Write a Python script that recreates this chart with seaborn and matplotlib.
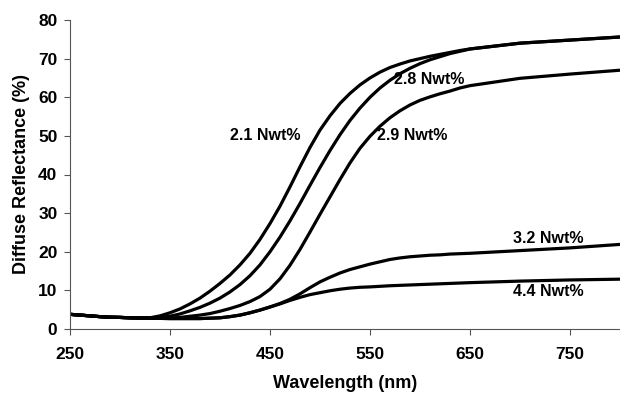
import matplotlib
matplotlib.use("Agg")
import matplotlib.pyplot as plt
import seaborn as sns
import pandas as pd

wavelength = [250, 260, 270, 280, 290, 300, 310, 320, 330,
              340, 350, 360, 370, 380, 390, 400, 410, 420, 430, 440, 450, 460, 470, 480, 490,
              500, 510, 520, 530, 540, 550, 560, 570, 580, 590, 600, 610, 620, 630, 640, 650,
              700, 750, 800]
n21 = [3.8, 3.6, 3.4, 3.2, 3.05, 3.0, 2.9, 2.85, 2.9,
       3.4, 4.2, 5.2, 6.5, 8.0, 9.8, 11.8, 14.0, 16.6, 19.6, 23.2, 27.3, 31.8, 36.8, 42.0, 47.0,
       51.5, 55.2, 58.4, 61.0, 63.2, 65.0, 66.5, 67.7, 68.6, 69.4, 70.0, 70.6, 71.1, 71.6, 72.1, 72.5,
       74.0, 74.8, 75.6]
n28 = [3.8, 3.6, 3.4, 3.2, 3.05, 3.0, 2.9, 2.85, 2.85,
       2.95, 3.3, 3.9, 4.7, 5.6, 6.7, 8.0, 9.6, 11.5, 13.8, 16.6, 20.0, 23.8, 28.0, 32.5, 37.2,
       41.8, 46.2, 50.3, 54.0, 57.2, 60.0, 62.4, 64.4, 66.1, 67.5, 68.7, 69.7, 70.5, 71.3, 71.9, 72.5,
       74.0, 74.8, 75.6]
n29 = [3.8, 3.6, 3.4, 3.2, 3.05, 3.0, 2.9, 2.85, 2.8,
       2.8, 2.8, 3.0, 3.3, 3.6, 4.0, 4.6, 5.3, 6.1, 7.1, 8.4, 10.3, 13.0, 16.5, 20.6, 25.1,
       29.7, 34.2, 38.7, 43.0, 46.8, 49.9, 52.5, 54.7, 56.5, 58.0, 59.2, 60.1, 60.9, 61.6, 62.4, 63.0,
       64.9, 66.0, 67.0]
n32 = [3.8, 3.6, 3.4, 3.2, 3.05, 3.0, 2.9, 2.85, 2.8,
       2.75, 2.7, 2.7, 2.7, 2.7, 2.8, 2.9, 3.2, 3.6, 4.2, 4.9, 5.7, 6.6, 7.7, 9.1, 10.7,
       12.2, 13.4, 14.5, 15.4, 16.1, 16.8, 17.4, 18.0, 18.4, 18.7, 18.9, 19.1, 19.2, 19.4, 19.5, 19.6,
       20.3, 21.0, 21.9]
n44 = [3.8, 3.6, 3.4, 3.2, 3.05, 3.0, 2.9, 2.85, 2.8,
       2.75, 2.7, 2.7, 2.7, 2.7, 2.8, 2.9, 3.2, 3.6, 4.2, 4.9, 5.7, 6.5, 7.4, 8.2, 8.9,
       9.4, 9.9, 10.3, 10.6, 10.8, 10.9, 11.05, 11.2, 11.3, 11.4, 11.5, 11.6, 11.7, 11.8, 11.9, 12.0,
       12.4, 12.7, 12.9]

series_names = ["2.1 Nwt%", "2.8 Nwt%", "2.9 Nwt%", "3.2 Nwt%", "4.4 Nwt%"]
series_values = [n21, n28, n29, n32, n44]
label_x = [410, 574, 557, 693, 693]
label_y = [50, 64.5, 50, 23.4, 9.7]

x_ticks = [250, 350, 450, 550, 650, 750]
y_ticks = [0, 10, 20, 30, 40, 50, 60, 70, 80]

rows = []
for name, vals in zip(series_names, series_values):
    for w, v in zip(wavelength, vals):
        rows.append({"Wavelength": w, "Reflectance": v, "Sample": name})
df = pd.DataFrame(rows)

sns.set_style("ticks")
plt.rcParams['font.family'] = ['Liberation Sans', 'DejaVu Sans']
plt.rcParams['font.weight'] = 'bold'
plt.rcParams['text.color'] = 'black'
plt.rcParams['axes.labelcolor'] = 'black'
plt.rcParams['lines.solid_joinstyle'] = 'round'

fig = plt.figure(figsize=(6.2, 3.95), dpi=100)
ax = fig.add_axes([70/620, 1-329/395, 550/620, 309/395])

sns.lineplot(data=df, x="Wavelength", y="Reflectance", units="Sample",
             estimator=None, color="black", linewidth=2.3, ax=ax, legend=False)

for name, lx, ly in zip(series_names, label_x, label_y):
    ax.text(lx, ly, name, fontsize=11.5, fontweight="bold", ha="left", va="center", color="black")

ax.set_xlim(250, 800)
ax.set_ylim(0, 80)
ax.set_xticks(x_ticks)
ax.set_yticks(y_ticks)
ax.tick_params(axis="both", direction="out", length=4, width=0.8, color="#555555",
               labelsize=12.5, labelcolor="black", pad=5)
for lbl in ax.get_xticklabels() + ax.get_yticklabels():
    lbl.set_fontweight("bold")
ax.tick_params(axis="x", pad=9)
for s in ["top", "right"]:
    ax.spines[s].set_visible(False)
for s in ["left", "bottom"]:
    ax.spines[s].set_color("#555555")
    ax.spines[s].set_linewidth(0.8)
ax.set_xlabel("Wavelength (nm)", fontsize=13, fontweight="bold", labelpad=9, color="black")
ax.set_ylabel("Diffuse Reflectance (%)", fontsize=13, fontweight="bold", labelpad=6, color="black")

fig.savefig("out.png", dpi=100)
